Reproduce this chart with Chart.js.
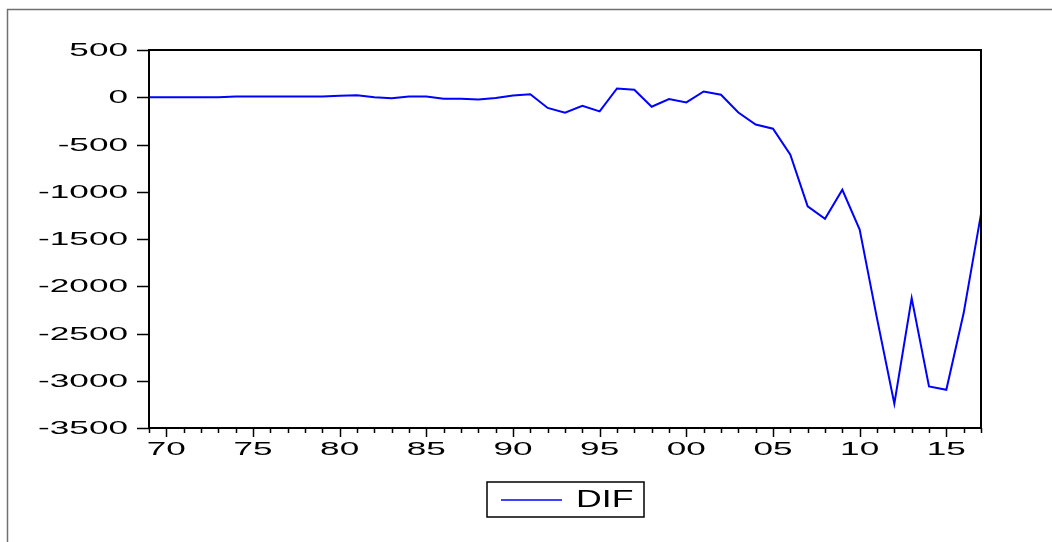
<!DOCTYPE html>
<html>
<head>
<meta charset="utf-8">
<script src="https://cdn.jsdelivr.net/npm/chart.js@4.4.1/dist/chart.umd.min.js"></script>
<style>
  html, body { margin: 0; padding: 0; background: #fff; }
  #wrap { width: 1052px; height: 542px; position: relative; }
</style>
</head>
<body>
<div id="wrap"><canvas id="dif-chart" width="1052" height="542"></canvas></div>
<script>
// DIF series, annual 1969-2017

const YEARS = [
  1969, 1970, 1971, 1972, 1973, 1974, 1975, 1976, 1977, 1978,
  1979, 1980, 1981, 1982, 1983, 1984, 1985, 1986, 1987, 1988,
  1989, 1990, 1991, 1992, 1993, 1994, 1995, 1996, 1997, 1998,
  1999, 2000, 2001, 2002, 2003, 2004, 2005, 2006, 2007, 2008,
  2009, 2010, 2011, 2012, 2013, 2014, 2015, 2016, 2017
];

const DIF = [
  0, 0, 0, 0, 0, 8, 8, 8, 8, 8,
  8, 15, 22, 0, -10, 8, 8, -15, -15, -25,
  -8, 18, 32, -113, -164, -90, -150, 93, 79, -100,
  -19, -55, 61, 26, -161, -288, -333, -608, -1155, -1286,
  -979, -1400, -2340, -3243, -2125, -3060, -3095, -2284, -1236
];

const X_MAJOR = [1970, 1975, 1980, 1985, 1990, 1995, 2000, 2005, 2010, 2015];
const X_LABELS = ['70', '75', '80', '85', '90', '95', '00', '05', '10', '15'];
const Y_TICKS = [500, 0, -500, -1000, -1500, -2000, -2500, -3000, -3500];
const Y_LABELS = ['500', '0', '-500', '-1000', '-1500', '-2000', '-2500', '-3000', '-3500'];

const LINE_COLOR = '#0000ff';
const FONT = '"Liberation Sans", Arial, sans-serif';

// EViews text comes out wide, so labels are drawn squeezed into a horizontal scale
function wideText(ctx, text, x, y, size, stretch, align) {
  ctx.save();
  ctx.font = `${size}px ${FONT}`;
  ctx.textBaseline = 'middle';
  ctx.textAlign = align;
  ctx.translate(x, y);
  ctx.scale(stretch, 1);
  ctx.fillStyle = '#000';
  ctx.fillText(text, 0, 0);
  ctx.restore();
}

const evFrame = {
  id: 'evFrame',
  afterDatasetsDraw(chart) {
    const ctx = chart.ctx;
    const a = chart.chartArea;
    const xs = chart.scales.x;
    const ys = chart.scales.y;

    // outer page frame
    ctx.save();
    ctx.strokeStyle = '#707070';
    ctx.lineWidth = 1.5;
    ctx.beginPath();
    ctx.moveTo(7.5, 542);
    ctx.lineTo(7.5, 9.5);
    ctx.lineTo(1052, 9.5);
    ctx.stroke();

    // plot box
    ctx.strokeStyle = '#000';
    ctx.lineWidth = 2;
    ctx.strokeRect(a.left, a.top, a.right - a.left, a.bottom - a.top);

    // y ticks + labels
    ctx.lineWidth = 1.5;
    Y_TICKS.forEach((v, i) => {
      const py = Math.round(ys.getPixelForValue(v)) + 0.5;
      ctx.beginPath();
      ctx.moveTo(a.left - 12, py);
      ctx.lineTo(a.left, py);
      ctx.stroke();
      wideText(ctx, Y_LABELS[i], a.left - 21, py, 19, 1.85, 'right');
    });

    // x ticks: minor every year, major every five
    YEARS.forEach(yr => {
      const px = Math.round(xs.getPixelForValue(yr)) + 0.5;
      const len = X_MAJOR.includes(yr) ? 9 : 5;
      ctx.beginPath();
      ctx.moveTo(px, a.bottom);
      ctx.lineTo(px, a.bottom + len);
      ctx.stroke();
    });
    X_MAJOR.forEach((yr, i) => {
      const px = xs.getPixelForValue(yr);
      wideText(ctx, X_LABELS[i], px, a.bottom + 22, 19, 1.85, 'center');
    });

    // legend box
    const ds = chart.data.datasets[0];
    ctx.lineWidth = 1.5;
    ctx.strokeStyle = '#000';
    ctx.strokeRect(487, 482, 157, 35);
    ctx.strokeStyle = ds.borderColor;
    ctx.lineWidth = 1.5;
    ctx.beginPath();
    ctx.moveTo(501, 500);
    ctx.lineTo(562, 500);
    ctx.stroke();
    wideText(ctx, ds.label, 576, 501, 23, 1.55, 'left');
    ctx.restore();
  }
};

const ctx = document.getElementById('dif-chart').getContext('2d');
const chart = new Chart(ctx, {
  type: 'line',
  data: {
    datasets: [{
      label: 'DIF',
      data: YEARS.map((yr, i) => ({ x: yr, y: DIF[i] })),
      borderColor: LINE_COLOR,
      borderWidth: 2,
      pointRadius: 0,
      tension: 0,
      fill: false,
    }]
  },
  options: {
    responsive: false,
    animation: false,
    layout: { padding: { left: 0, top: 50, right: 71, bottom: 0 } },
    plugins: {
      legend: { display: false },
      tooltip: { enabled: false },
    },
    scales: {
      x: {
        type: 'linear',
        min: 1969,
        max: 2017,
        grid: { display: false },
        border: { display: false },
        ticks: { display: false, stepSize: 1 },
        afterFit: s => { s.height = 114; },
      },
      y: {
        min: -3500,
        max: 500,
        grid: { display: false },
        border: { display: false },
        ticks: { display: false, stepSize: 500 },
        afterFit: s => { s.width = 149; },
      }
    }
  },
  plugins: [evFrame]
});
</script>
</body>
</html>
